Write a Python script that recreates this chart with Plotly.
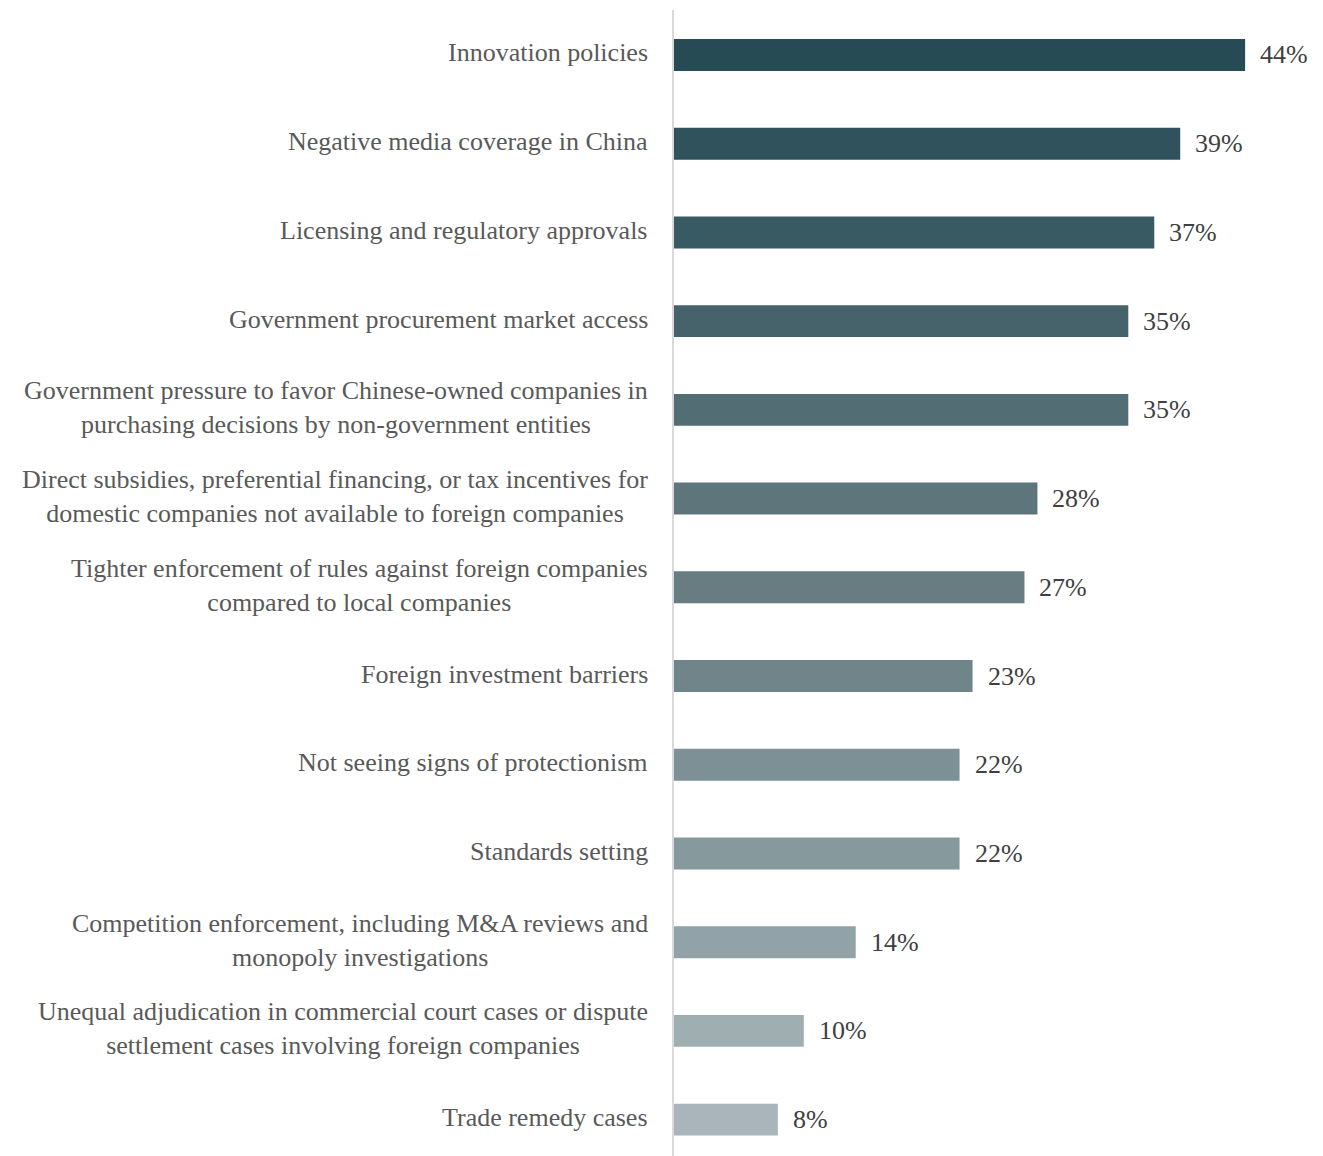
import plotly.graph_objects as go

categories = [
    "Innovation policies",
    "Negative media coverage in China",
    "Licensing and regulatory approvals",
    "Government procurement market access",
    "Government pressure to favor Chinese-owned companies in<br>purchasing decisions by non-government entities",
    "Direct subsidies, preferential financing, or tax incentives for<br>domestic companies not available to foreign companies",
    "Tighter enforcement of rules against foreign companies<br>compared to local companies",
    "Foreign investment barriers",
    "Not seeing signs of protectionism",
    "Standards setting",
    "Competition enforcement, including M&A reviews and<br>monopoly investigations",
    "Unequal adjudication in commercial court cases or dispute<br>settlement cases involving foreign companies",
    "Trade remedy cases",
]
values = [44, 39, 37, 35, 35, 28, 27, 23, 22, 22, 14, 10, 8]
bar_colors = [
    "#264b55", "#30525c", "#385a63", "#46636b", "#526d74", "#5d757b",
    "#677d82", "#6f858a", "#7c9095", "#869a9e", "#91a3a8", "#9eaeb1", "#a9b5ba",
]

FONT = "Liberation Serif"
keys = [f"c{i}" for i in range(len(categories))]

fig = go.Figure(
    go.Bar(
        x=values,
        y=keys,
        orientation="h",
        marker=dict(color=bar_colors, line=dict(width=0)),
        width=0.36,
        hoverinfo="skip",
    )
)

# category labels, centred multi-line text right-aligned against the axis
for k, label in zip(keys, categories):
    fig.add_annotation(
        x=0, y=k, xref="x", yref="y", text=label, showarrow=False,
        xanchor="right", yanchor="middle", align="center", xshift=-24,
        yshift=2,
        font=dict(family=FONT, size=26, color="#595959"),
    )

# value labels to the right of each bar
for k, v in zip(keys, values):
    fig.add_annotation(
        x=v, y=k, xref="x", yref="y", text=f"{v}%", showarrow=False,
        xanchor="left", yanchor="middle", xshift=13,
        font=dict(family=FONT, size=26, color="#404040"),
    )

fig.update_layout(
    width=1323, height=1156,
    margin=dict(l=674, r=0, t=10, b=0),
    paper_bgcolor="white", plot_bgcolor="white",
    showlegend=False,
    xaxis=dict(range=[0, 50], visible=False, fixedrange=True),
    yaxis=dict(
        type="category", range=[12.41, -0.507], showticklabels=False,
        showgrid=False, zeroline=False, showline=True, linecolor="#d9d9d9",
        linewidth=2, ticks="",
    ),
)

fig.write_html("out.html")
